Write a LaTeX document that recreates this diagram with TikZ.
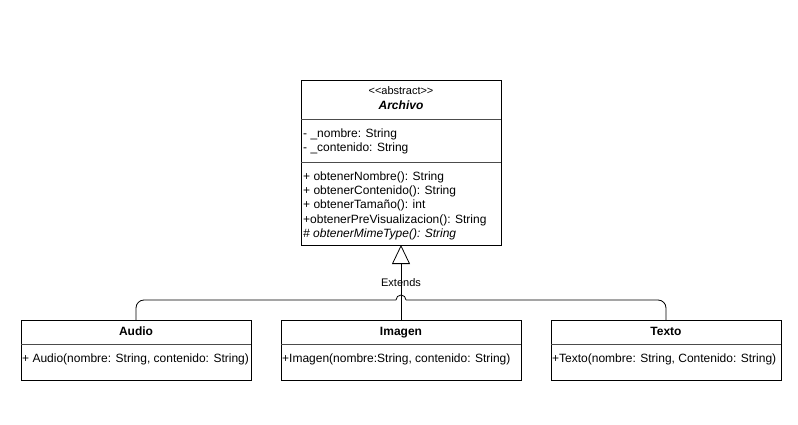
\documentclass[tikz,border=0pt]{standalone}
\usepackage{fontspec}
\setmainfont{Liberation Sans}
\usetikzlibrary{arrows.meta}
\begin{document}
\begin{tikzpicture}[x=1pt,y=-1pt,
  box/.style={draw,line width=0.9pt,anchor=north west,inner sep=0pt,outer sep=0pt},
  txt/.style={font=\fontsize{12}{14}\selectfont,inner sep=0pt,anchor=west,text height=9pt,text depth=2.5pt},
  ttl/.style={font=\fontsize{12}{14}\selectfont\bfseries,inner sep=0pt,text height=9pt,text depth=2.5pt},
  conn/.style={line width=0.8pt}]
\useasboundingbox (0,0) rectangle (798,425);
% Archivo
\node[box,minimum width=200pt,minimum height=165pt] (arch) at (301,80) {};
\draw[line width=0.5pt,black!70] (301,119) -- (501,119);
\draw[line width=0.5pt,black!70] (301,162) -- (501,162);
\node[ttl,font=\fontsize{11}{13}\selectfont] (st) at (401,91) {{<}{<}abstract{>}{>}};
\node[ttl,font=\fontsize{12}{14}\selectfont\bfseries\itshape] (an) at (401,106) {Archivo};
\node[txt] (a1) at (303,134) {- \_nombre: String};
\node[txt] (a2) at (303,148) {- \_contenido: String};
\node[txt] (m1) at (303,177) {+ obtenerNombre(): String};
\node[txt] (m2) at (303,191) {+ obtenerContenido(): String};
\node[txt] (m3) at (303,205) {+ obtenerTamaño(): int};
\node[txt] (m4) at (303,220) {+obtenerPreVisualizacion(): String};
\node[txt,font=\fontsize{12}{14}\selectfont\itshape] (m5) at (303,234) {\# obtenerMimeType(): String};
% Subclasses
\node[box,minimum width=230pt,minimum height=60pt] (audio) at (21,320) {};
\draw[line width=0.5pt,black!70] (21,344) -- (251,344);
\node[ttl] (audiot) at (136,332) {Audio};
\node[txt] (audiom) at (22,359) {+ Audio(nombre: String, contenido: String)};

\node[box,minimum width=240pt,minimum height=60pt] (img) at (281,320) {};
\draw[line width=0.5pt,black!70] (281,344) -- (521,344);
\node[ttl] (imgt) at (401,332) {Imagen};
\node[txt] (imgm) at (282,359) {+Imagen(nombre:String, contenido: String)};

\node[box,minimum width=230pt,minimum height=60pt] (tex) at (551,320) {};
\draw[line width=0.5pt,black!70] (551,344) -- (781,344);
\node[ttl] (text) at (666,332) {Texto};
\node[txt] (texm) at (552,359) {+Texto(nombre: String, Contenido: String)};
% connectors
\draw[conn,-{Triangle[open,length=19pt,width=18pt]}] (img.north) -- (arch.south);
\draw[conn,rounded corners=8pt] (audio.north) -- (136,300) -- (396,300);
\draw[conn] (396,300) arc (180:360:5);
\draw[conn,rounded corners=8pt] (406,300) -- (666,300) -- (tex.north);
\node[font=\fontsize{11}{13}\selectfont,inner sep=0pt,text height=8pt,text depth=2pt] (ext) at (401,283) {Extends};
\end{tikzpicture}
\end{document}
